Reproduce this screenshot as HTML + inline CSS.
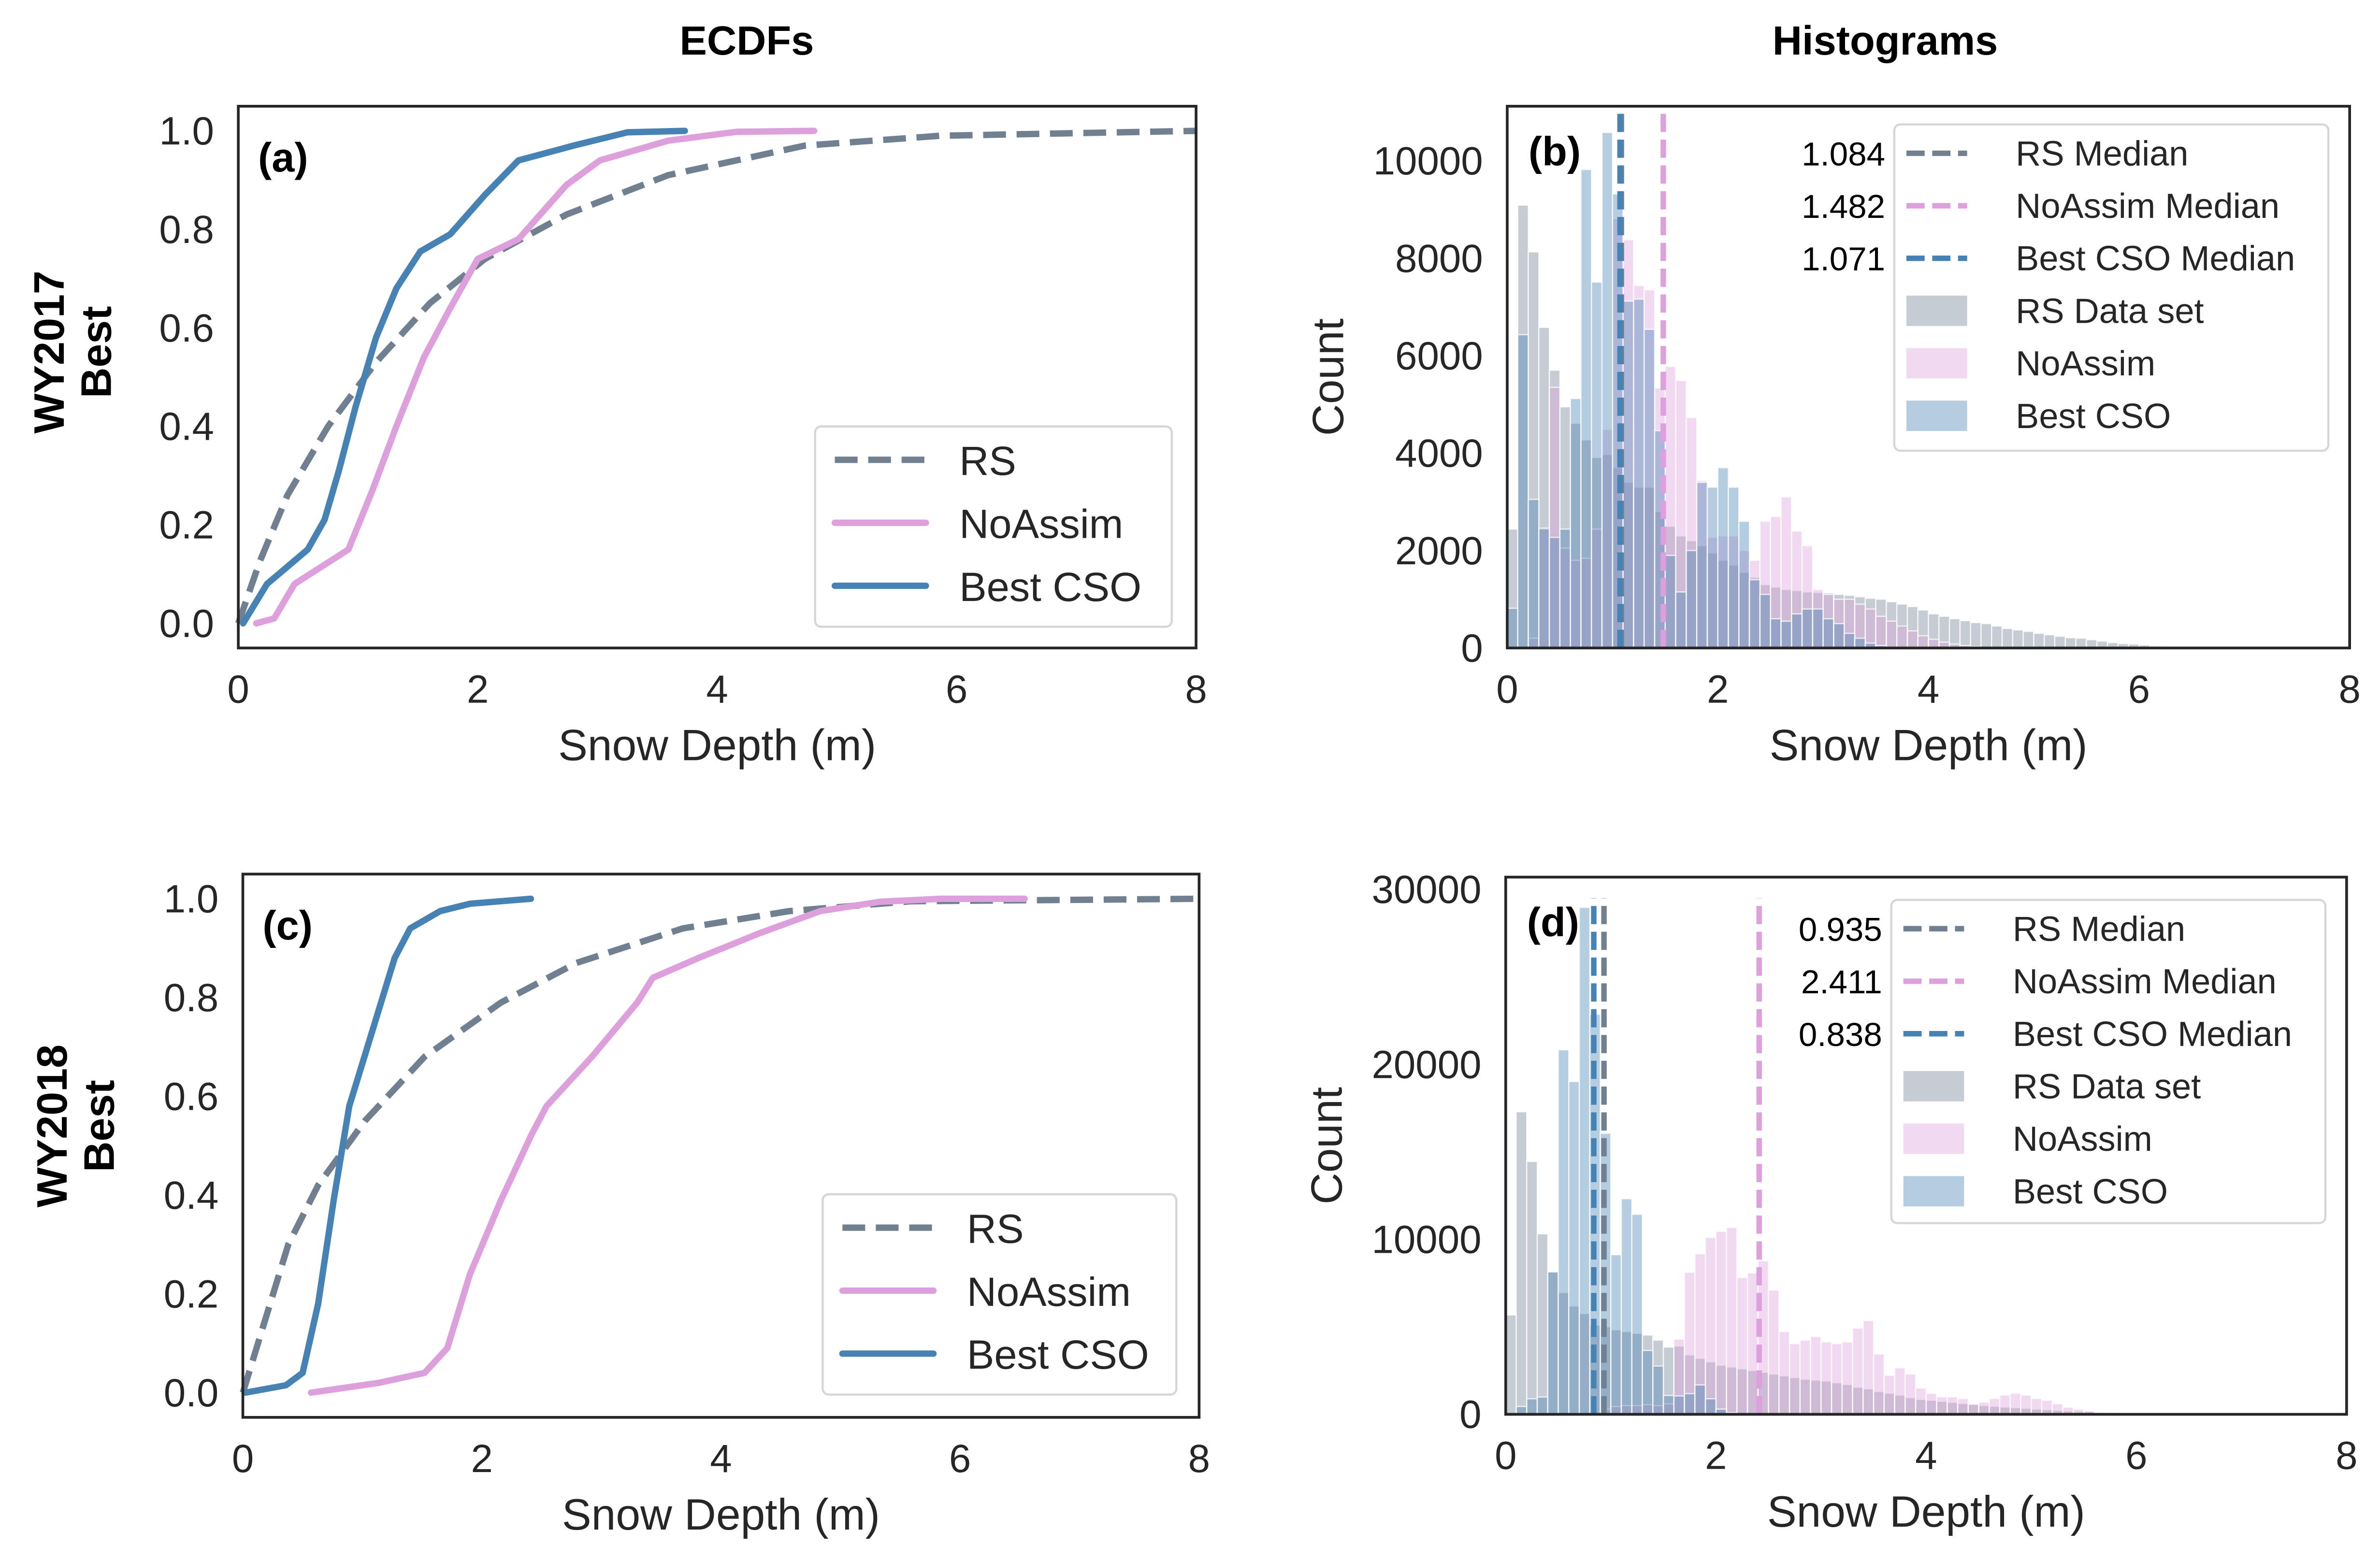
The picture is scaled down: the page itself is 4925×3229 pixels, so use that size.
<!DOCTYPE html>
<html><head><meta charset="utf-8"><style>
html,body{margin:0;padding:0;background:#fff}
svg{display:block}
text{font-family:"Liberation Sans",sans-serif;fill:#262626}
</style></head><body>
<svg id="fig" width="4925" height="3229" viewBox="0 0 1568 1028" preserveAspectRatio="none" xmlns="http://www.w3.org/2000/svg">
<rect width="1568" height="1028" fill="#fff"/>
<text x="492" y="36" text-anchor="middle" font-size="27" font-weight="bold" style="fill:#000">ECDFs</text>
<text x="1242" y="36" text-anchor="middle" font-size="27" font-weight="bold" style="fill:#000">Histograms</text>
<g transform="translate(47,232) rotate(-90)"><text x="0" y="-5" text-anchor="middle" font-size="28" font-weight="bold" style="fill:#000">WY2017</text><text x="0" y="26" text-anchor="middle" font-size="28" font-weight="bold" style="fill:#000">Best</text></g>
<g transform="translate(49,742) rotate(-90)"><text x="0" y="-5" text-anchor="middle" font-size="28" font-weight="bold" style="fill:#000">WY2018</text><text x="0" y="26" text-anchor="middle" font-size="28" font-weight="bold" style="fill:#000">Best</text></g>
</svg>
<script>
// ===== DATA =====
const ecdfProbsA_RS = [0,0.126,0.26,0.4,0.53,0.65,0.74,0.83,0.91,0.97,0.99,1.0];
const ecdfXA_RS     = [0,0.18,0.41,0.75,1.15,1.6,2.06,2.74,3.59,4.73,5.86,8.0];
const ecdfProbsA_NA = [0,0.01,0.08,0.15,0.27,0.4,0.54,0.64,0.74,0.78,0.89,0.94,0.98,0.998,1.0];
const ecdfXA_NA     = [0.15,0.3,0.47,0.92,1.12,1.32,1.55,1.77,2.0,2.34,2.74,3.02,3.59,4.16,4.81];
const ecdfProbsA_CSO= [0,0.08,0.15,0.21,0.31,0.44,0.58,0.68,0.755,0.79,0.87,0.94,0.97,0.997,1.0];
const ecdfXA_CSO    = [0.04,0.24,0.58,0.72,0.84,0.98,1.15,1.32,1.52,1.77,2.06,2.34,2.8,3.25,3.73];

const ecdfProbsC_RS = [0,0.15,0.3,0.42,0.55,0.68,0.79,0.87,0.94,0.975,0.995,1.0];
const ecdfXC_RS     = [0,0.19,0.38,0.63,1.02,1.52,2.16,2.79,3.68,4.57,5.59,8.0];
const ecdfProbsC_NA = [0,0.02,0.04,0.09,0.24,0.39,0.52,0.58,0.68,0.79,0.84,0.88,0.93,0.975,0.994,1.0,1.0];
const ecdfXC_NA     = [0.57,1.14,1.52,1.71,1.9,2.16,2.41,2.54,2.92,3.3,3.43,3.81,4.32,4.83,5.33,5.84,6.54];
const ecdfProbsC_CSO= [0,0.015,0.04,0.18,0.39,0.58,0.73,0.88,0.94,0.975,0.99,1.0];
const ecdfXC_CSO    = [0.02,0.36,0.5,0.63,0.76,0.89,1.08,1.27,1.4,1.65,1.9,2.41];

const binWidth = 0.1;
const histB_RS  = [2440,9090,8130,6580,5700,4950,4610,4270,3910,3970,3700,3400,3300,3300,2800,2500,2300,2200,2100,1950,1800,1700,1550,1450,1300,1250,1200,1180,1150,1140,1130,1100,1080,1050,1020,1000,950,900,850,780,700,650,600,560,520,500,450,400,370,340,300,270,240,210,200,170,140,110,90,80,60,40,30,20,15,10,5];
const histB_NA  = [0,0,200,2440,5350,2050,1800,1840,2440,4490,8810,8380,7440,7350,5340,5780,5490,4730,3440,2270,2300,2300,2000,1800,2600,2700,3100,2400,2100,1200,1100,1000,1000,900,800,650,550,450,350,250,180,120,80,50,30];
const histB_CSO = [815,6430,3050,2460,2270,2440,5120,9820,7510,10580,9320,7120,7160,6540,4460,1900,1150,2000,3400,3300,3700,3300,2600,1400,1100,600,550,700,800,800,600,500,300,200,100,50];

const histD_RS  = [5680,17290,14450,10310,8140,6960,6190,5760,5100,5000,4830,4730,4630,4530,4240,3840,3900,3390,3200,3000,2800,2700,2600,2500,2400,2300,2200,2100,2000,1950,1900,1800,1700,1550,1450,1300,1200,1100,950,850,800,740,680,620,560,500,460,420,380,340,300,260,220,180,160,150,120,90,70,60,50];
const histD_NA  = [0,0,0,0,0,0,0,0,0,300,450,500,500,550,500,600,4300,8120,9170,10110,10450,10680,7820,8080,8770,7100,4730,4040,4240,4440,4140,4040,4140,4930,5360,3450,2230,2660,2300,1500,1200,1000,1000,900,600,700,900,1100,1200,1100,900,800,600,400,300,200,100,50];
const histD_CSO = [0,450,890,990,8140,20830,19020,28970,22860,16060,9120,12320,11430,3650,2760,1080,1050,1180,1680,890,300,100];

const mediansB = [1.084,1.482,1.071];
const mediansD = [0.935,2.411,0.838];
const ecdfTicksY = [0,0.2,0.4,0.6,0.8,1.0];
const ecdfTickLabelsY = ["0.0","0.2","0.4","0.6","0.8","1.0"];
const xTicks = [0,2,4,6,8];
const histTicksB = [0,2000,4000,6000,8000,10000];
const histTicksD = [0,10000,20000,30000];
const seriesNames = ["RS","NoAssim","Best CSO"];

// ===== DRAWING =====
const NS="http://www.w3.org/2000/svg";
const svg=document.getElementById('fig');
const C={RS:'#708090',NA:'#dda0dd',CSO:'#4682b4',txt:'#262626'};
function mk(tag,attrs,parent){const e=document.createElementNS(NS,tag);for(const k in attrs)e.setAttribute(k,attrs[k]);(parent||svg).appendChild(e);return e;}
function txt(s,x,y,size,anchor,parent,extra){const t=mk('text',Object.assign({x:x,y:y,'font-size':size,'text-anchor':anchor||'start'},extra||{}),parent);t.textContent=s;return t;}

function axes(id,L,R,T,B,xmin,xmax,ymin,ymax){
  const g=mk('g',{});
  
  
  const sx=v=>L+(v-xmin)/(xmax-xmin)*(R-L);
  const sy=v=>B-(v-ymin)/(ymax-ymin)*(B-T);
  return {g,sx,sy,L,R,T,B};
}
function frame(a){
  const r=mk('rect',{x:a.L,y:a.T,width:a.R-a.L,height:a.B-a.T,fill:'none',stroke:'#262626','stroke-width':1.8},a.g);
  
  
}
function xAxis(a){
  xTicks.forEach(v=>{const t=txt(String(v),a.sx(v),a.B+36,26,'middle',a.g);
    
    });
  const t=txt('Snow Depth (m)',(a.L+a.R)/2,a.B+74,29,'middle',a.g);
  
  
}
function ecdfPanel(a,sets,label,leg){
  ecdfTicksY.forEach((v,i)=>{const t=txt(ecdfTickLabelsY[i],a.L-16,a.sy(v)+9,26,'end',a.g);
    
    });
  sets.forEach(s=>{
    const pts=s.x.map((x,i)=>a.sx(x).toFixed(2)+','+a.sy(s.p[i]).toFixed(2)).join(' ');
    const pl=mk('polyline',{points:pts,fill:'none',stroke:s.c,'stroke-width':4.2,'stroke-linejoin':'round','stroke-linecap':s.dash?'butt':'round'},a.g);
    if(s.dash)pl.setAttribute('stroke-dasharray','15,7');
    
    
  });
  frame(a);
  const l=txt(label,a.L+13,a.T+43,27,'start',a.g,{'font-weight':'bold',style:'fill:#000'});
  
  
  xAxis(a);
  const lg=mk('g',{},a.g);
  
  
  mk('rect',{x:leg.x,y:leg.y,width:leg.w,height:leg.h,rx:4,fill:'#fff','fill-opacity':0.8,stroke:'#d6d6d6','stroke-width':1.4},lg);
  sets.forEach((s,i)=>{const yy=leg.y+22+i*41.5;
    const ln=mk('line',{x1:leg.x+13,x2:leg.x+73,y1:yy,y2:yy,stroke:s.c,'stroke-width':4.2,'stroke-linecap':s.dash?'butt':'round'},lg);
    if(s.dash)ln.setAttribute('stroke-dasharray','15,7');
    
    
    const t=txt(seriesNames[i],leg.x+95,yy+10,27,'start',lg);
    
    });
}
function histPanel(a,ticks,hists,meds,label,leg,medTop){
  ticks.forEach(v=>{const t=txt(String(v),a.L-16,a.sy(v)+9,26,'end',a.g);
    
    });
  const ct=txt('Count',0,0,29,'middle',a.g,{transform:'translate('+(a.L-108)+','+((a.T+a.B)/2)+') rotate(-90)'});
  
  
  hists.forEach(h=>{
    h.v.forEach((c,i)=>{if(c<=0)return;
      const x0=a.sx(i*binWidth),x1=a.sx((i+1)*binWidth);
      const r=mk('rect',{x:x0,y:a.sy(c),width:x1-x0,height:a.B-a.sy(c),fill:h.c,'fill-opacity':h.o,stroke:'#fff','stroke-opacity':0.75,'stroke-width':0.8},a.g);
      
      
    });
  });
  const mc=[C.RS,C.NA,C.CSO];
  meds.forEach((m,i)=>{
    const ln=mk('line',{x1:a.sx(m),x2:a.sx(m),y1:a.B,y2:medTop,stroke:mc[i],'stroke-width':3.6,'stroke-dasharray':'12,5'},a.g);
    
    
  });
  frame(a);
  const l=txt(label,a.L+14,a.T+39,27,'start',a.g,{'font-weight':'bold',style:'fill:#000'});
  
  
  xAxis(a);
  const lg=mk('g',{},a.g);
  
  
  mk('rect',{x:leg.x,y:leg.y,width:leg.w,height:leg.h,rx:4,fill:'#fff','fill-opacity':0.8,stroke:'#d6d6d6','stroke-width':1.4},lg);
  const names=['RS Median','NoAssim Median','Best CSO Median','RS Data set','NoAssim','Best CSO'];
  names.forEach((n,i)=>{const yy=leg.y+19+i*34.6;
    if(i<3){const ln=mk('line',{x1:leg.x+8,x2:leg.x+48,y1:yy,y2:yy,stroke:mc[i],'stroke-width':3.6,'stroke-dasharray':'12,5'},lg);
      
      
      const nt=txt(meds[i].toFixed(3),leg.x-6,yy+8,22,'end',a.g,{style:'fill:#000'});
      
      }
    else{const p=mk('rect',{x:leg.x+8,y:yy-10,width:40,height:20,fill:mc[i-3],'fill-opacity':0.4},lg);
      
      }
    const t=txt(n,leg.x+80,yy+8,23,'start',lg);
    
    });
}

const A=axes('panel-a-ecdf-2017',157,788,70,427,0,8,-0.05,1.05);
ecdfPanel(A,[{x:ecdfXA_RS,p:ecdfProbsA_RS,c:C.RS,dash:1,name:'rs-ecdf-line'},{x:ecdfXA_NA,p:ecdfProbsA_NA,c:C.NA,name:'noassim-ecdf-line'},{x:ecdfXA_CSO,p:ecdfProbsA_CSO,c:C.CSO,name:'best-cso-ecdf-line'}],'(a)',{x:537,y:281,w:235,h:132});
const Cc=axes('panel-c-ecdf-2018',160,790,576,934,0,8,-0.05,1.05);
ecdfPanel(Cc,[{x:ecdfXC_RS,p:ecdfProbsC_RS,c:C.RS,dash:1,name:'rs-ecdf-line'},{x:ecdfXC_NA,p:ecdfProbsC_NA,c:C.NA,name:'noassim-ecdf-line'},{x:ecdfXC_CSO,p:ecdfProbsC_CSO,c:C.CSO,name:'best-cso-ecdf-line'}],'(c)',{x:542,y:787,w:233,h:132});
const Bp=axes('panel-b-hist-2017',993,1548,70,427,0,8,0,11120);
histPanel(Bp,histTicksB,[{v:histB_RS,c:C.RS,o:0.4},{v:histB_NA,c:C.NA,o:0.4},{v:histB_CSO,c:C.CSO,o:0.4}],mediansB,'(b)',{x:1248,y:82,w:286,h:215},70);
const Dp=axes('panel-d-hist-2018',992,1546,578,932,0,8,0,30700);
histPanel(Dp,histTicksD,[{v:histD_RS,c:C.RS,o:0.4},{v:histD_NA,c:C.NA,o:0.4},{v:histD_CSO,c:C.CSO,o:0.4}],mediansD,'(d)',{x:1246,y:593,w:286,h:213},Dp.sy(29500));
</script>
</body></html>
